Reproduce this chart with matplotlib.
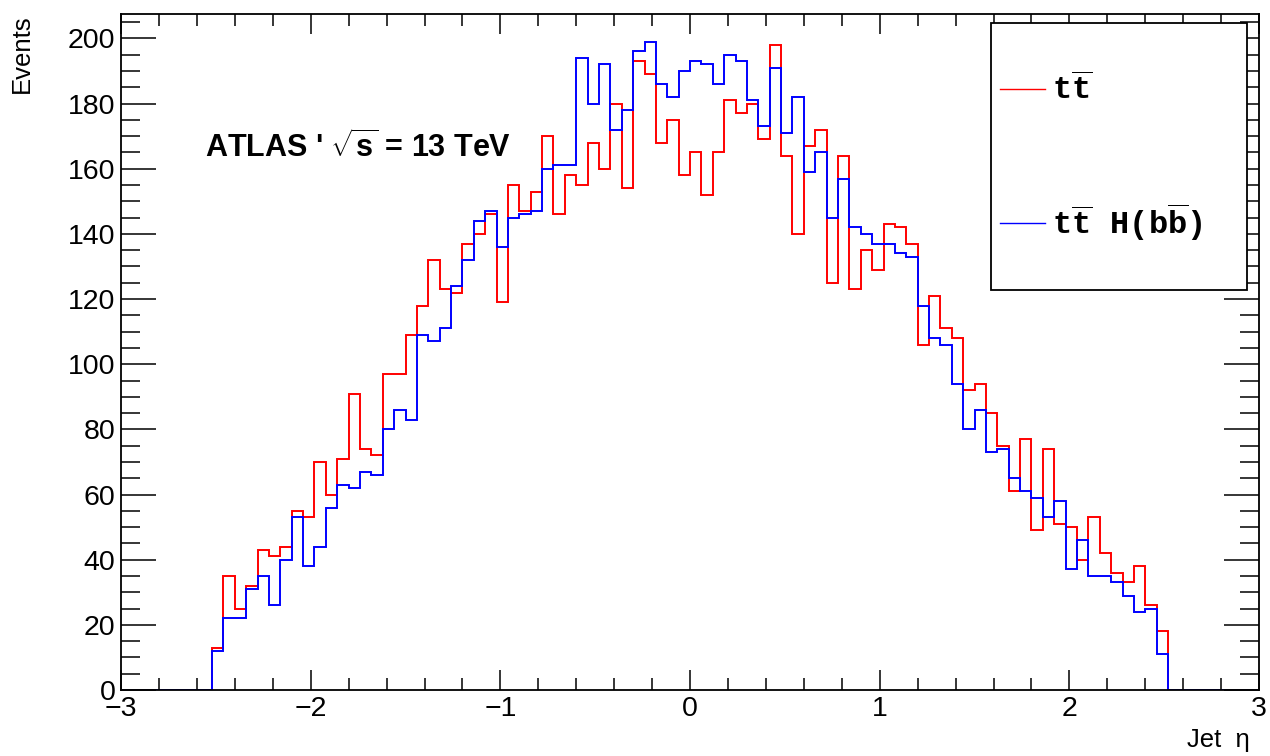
import numpy as np
import matplotlib
matplotlib.use("Agg")
import matplotlib.pyplot as plt
from matplotlib.patches import Rectangle
from matplotlib.ticker import MultipleLocator

# 100 bins of jet eta between -3 and 3
eta_lo, eta_hi, n_bins = -3.0, 3.0, 100

ttbar = [0, 0, 0, 0, 0, 0, 0, 0,
         13, 35, 25, 32, 43, 41, 44, 55, 53, 70,
         60, 71, 91, 74, 72, 97, 97, 109, 118, 132,
         123, 122, 137, 140, 146, 119, 155, 147, 153, 170,
         146, 158, 155, 168, 160, 180, 154, 193, 189, 168,
         175, 158, 165, 152, 165, 181, 177, 180, 169, 198,
         164, 140, 167, 172, 125, 164, 123, 135, 129, 143,
         142, 137, 106, 121, 111, 108, 92, 94, 85, 75,
         61, 77, 49, 74, 51, 50, 40, 53, 42, 36,
         33, 38, 26, 18,
         0, 0, 0, 0, 0, 0, 0, 0]

tth = [0, 0, 0, 0, 0, 0, 0, 0,
       12, 22, 22, 31, 35, 26, 40, 53, 38, 44,
       56, 63, 62, 67, 66, 80, 86, 83, 109, 107,
       111, 124, 132, 144, 147, 136, 145, 146, 147, 160,
       161, 161, 194, 180, 192, 172, 178, 196, 199, 186,
       182, 190, 193, 192, 186, 195, 193, 181, 173, 191,
       171, 182, 159, 165, 145, 157, 142, 140, 137, 137,
       134, 133, 118, 108, 106, 94, 80, 86, 73, 74,
       65, 61, 59, 53, 58, 37, 46, 35, 35, 33,
       29, 24, 25, 11,
       0, 0, 0, 0, 0, 0, 0, 0]

labels = [r"t$\mathrm{\overline{t}}$", r"t$\mathrm{\overline{t}}$ H(b$\mathrm{\overline{b}}$)"]

plt.rcParams["font.family"] = ["Liberation Sans", "DejaVu Sans"]
plt.rcParams["mathtext.fontset"] = "custom"
plt.rcParams["mathtext.rm"] = "Liberation Mono:bold"
plt.rcParams["mathtext.bf"] = "Liberation Sans:bold"

edges = np.linspace(eta_lo, eta_hi, n_bins + 1)

fig = plt.figure(figsize=(12.7, 7.56), dpi=100)
ax = fig.add_axes([0.0953, 0.0873, 0.8961, 0.8942])

ax.stairs(ttbar, edges, color="#ff0000", lw=1.4, label=labels[0])
ax.stairs(tth, edges, color="#0000ff", lw=1.4, label=labels[1])

ax.set_xlim(eta_lo, eta_hi)
ax.set_ylim(0, 207.5)
ax.xaxis.set_major_locator(MultipleLocator(1))
ax.xaxis.set_minor_locator(MultipleLocator(0.2))
ax.yaxis.set_major_locator(MultipleLocator(20))
ax.yaxis.set_minor_locator(MultipleLocator(5))
ax.tick_params(which="both", direction="in", top=True, right=True,
               labelsize=20.5, width=1.1, colors="black")
ax.tick_params(axis="x", which="major", length=14.4, pad=4)
ax.tick_params(axis="x", which="minor", length=8.6)
ax.tick_params(axis="y", which="major", length=25, pad=4)
ax.tick_params(axis="y", which="minor", length=13.7)
for s in ax.spines.values():
    s.set_linewidth(1.3)

ax.text(-0.087, 1.0, "Events", transform=ax.transAxes, rotation=90,
        ha="center", va="top", fontsize=18.5)
ax.text(0.992, -0.074, "Jet  η", transform=ax.transAxes,
        ha="right", va="center", fontsize=18.5)

ax.text(0.0738, 0.803, r"ATLAS ' $\mathbf{\sqrt{s}}$ = 13 TeV", transform=ax.transAxes,
        ha="left", va="center", fontsize=22, fontweight="bold")

# legend box (white, black frame) drawn over the axes, entries placed inside it
box = Rectangle((0.7645, 0.5917), 0.225, 0.3953, transform=ax.transAxes,
                facecolor="white", edgecolor="black", lw=1.3, zorder=4)
ax.add_patch(box)
leg = ax.legend(loc="upper left", bbox_to_anchor=(0.7724, 0.911),
                prop={"family": "Liberation Mono", "weight": "bold", "size": 23},
                frameon=False, borderpad=0, labelspacing=2.95,
                handlelength=1.41, handletextpad=0.22, borderaxespad=0)
leg.set_zorder(5)
for h in leg.legend_handles:
    h.set_linewidth(1.0)

fig.savefig("out.png", dpi=100)
